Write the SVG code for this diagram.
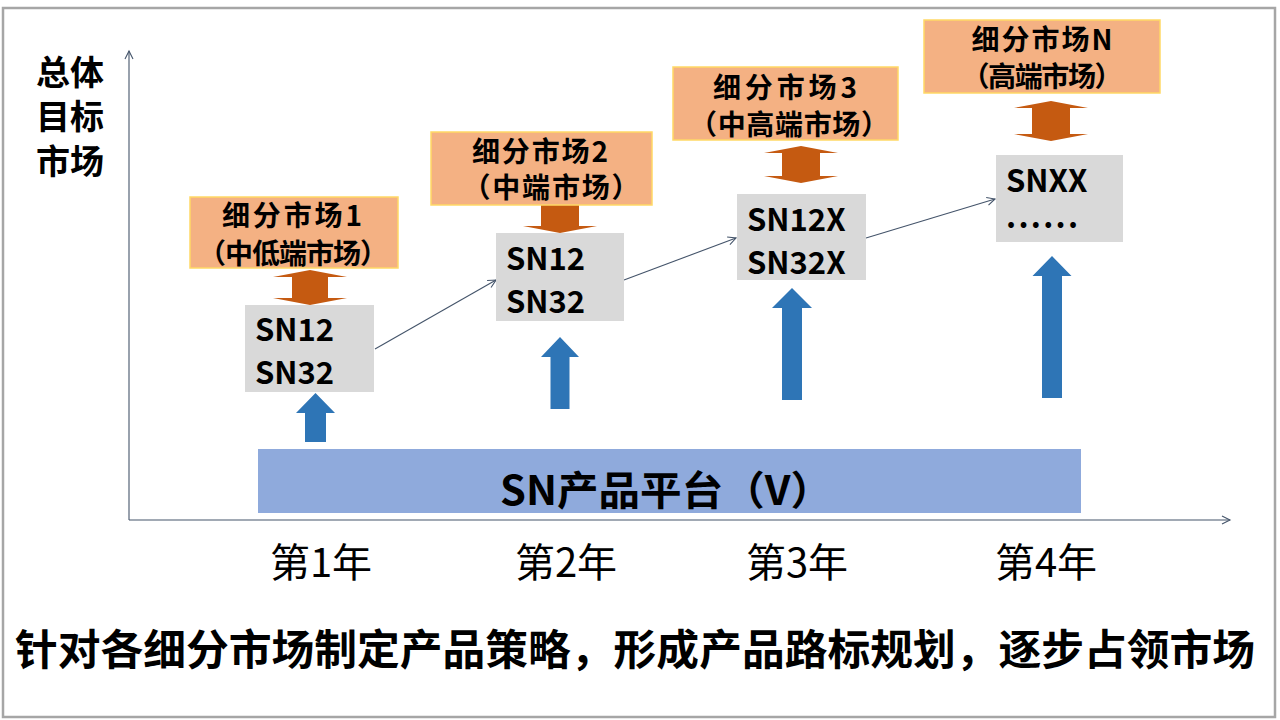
<svg xmlns="http://www.w3.org/2000/svg" width="1280" height="720" viewBox="0 0 1280 720">
<defs>
<marker id="open" markerWidth="12" markerHeight="12" refX="9" refY="5" orient="auto" markerUnits="userSpaceOnUse">
<path d="M1,1 L9,5 L1,9" fill="none" stroke="#44546A" stroke-width="1.1"/>
</marker>
<style>
.t{font-family:"Noto Sans CJK SC","Noto Sans",sans-serif;fill:#000}
.b{font-weight:bold}
.mk{fill:#F4B183;stroke:#FFD966;stroke-width:1.5}
.pr{fill:#D9D9D9}
.dbl{fill:#C55A11}
.up{fill:#2E75B6}
.ln{stroke:#44546A;stroke-width:1.1;fill:none}
</style>
</defs>
<rect x="0" y="0" width="1280" height="720" fill="#FFFFFF"/>
<rect x="3" y="8" width="1272" height="709" fill="none" stroke="#A6A6A6" stroke-width="2.5"/>

<g id="axis-label">
<text class="t b" x="70" y="85" font-size="34" text-anchor="middle">总体</text>
<text class="t b" x="70" y="129" font-size="34" text-anchor="middle">目标</text>
<text class="t b" x="70" y="174" font-size="34" text-anchor="middle">市场</text>
</g>

<g id="connectors">
<line class="ln" x1="129" y1="520" x2="129" y2="51" marker-end="url(#open)"/>
<line class="ln" x1="129" y1="520" x2="1230" y2="520" marker-end="url(#open)"/>
<line class="ln" x1="375" y1="349" x2="496" y2="280" marker-end="url(#open)"/>
<line class="ln" x1="624" y1="280" x2="736" y2="238" marker-end="url(#open)"/>
<line class="ln" x1="866" y1="238" x2="995" y2="199" marker-end="url(#open)"/>
</g>

<g id="platform">
<rect x="258" y="449" width="823" height="64" fill="#8FAADC"/>
<text class="t b" x="666" y="505" font-size="40" text-anchor="middle" textLength="332" lengthAdjust="spacingAndGlyphs">SN产品平台（V）</text>
</g>

<g id="up-arrows">
<path class="up" d="M315.5,393 L335,413 L326,413 L326,442 L305,442 L305,413 L296,413 Z"/>
<path class="up" d="M560,337 L579,357 L569.5,357 L569.5,409 L550.5,409 L550.5,357 L541,357 Z"/>
<path class="up" d="M792,288 L812,308 L802,308 L802,400 L782,400 L782,308 L772,308 Z"/>
<path class="up" d="M1052,256 L1071.5,276 L1062,276 L1062,398 L1042,398 L1042,276 L1032.5,276 Z"/>
</g>

<g id="market-arrows">
<path class="dbl" d="M310,270 L347,277 L328,277 L328,298 L347,298 L310,305 L273,298 L292,298 L292,277 L273,277 Z"/>
<path class="dbl" d="M560,197 L597,204 L579,204 L579,226 L597,226 L560,233 L523,226 L541,226 L541,204 L523,204 Z"/>
<path class="dbl" d="M801,146 L838,153 L820,153 L820,176 L838,176 L801,183 L764,176 L782,176 L782,153 L764,153 Z"/>
<path class="dbl" d="M1051,101 L1088,108 L1070,108 L1070,134 L1088,134 L1051,141 L1014,134 L1032,134 L1032,108 L1014,108 Z"/>
</g>

<g id="market-1">
<rect class="mk" x="190" y="197" width="208" height="71"/>
<text class="t b" x="292" y="226" font-size="28" text-anchor="middle" textLength="140" lengthAdjust="spacing">细分市场1</text>
<text class="t b" x="293" y="264" font-size="28" text-anchor="middle" textLength="190" lengthAdjust="spacing">（中低端市场）</text>
</g>
<g id="market-2">
<rect class="mk" x="431" y="132" width="221" height="73"/>
<text class="t b" x="540" y="162" font-size="28" text-anchor="middle" textLength="136" lengthAdjust="spacing">细分市场2</text>
<text class="t b" x="551" y="198" font-size="28" text-anchor="middle" textLength="177" lengthAdjust="spacing">（中端市场）</text>
</g>
<g id="market-3">
<rect class="mk" x="673" y="67" width="225" height="73"/>
<text class="t b" x="785" y="98" font-size="28" text-anchor="middle" textLength="144" lengthAdjust="spacing">细分市场3</text>
<text class="t b" x="789" y="135" font-size="28" text-anchor="middle" textLength="200" lengthAdjust="spacing">（中高端市场）</text>
</g>
<g id="market-n">
<rect class="mk" x="924" y="20" width="236" height="73"/>
<text class="t b" x="1042" y="50" font-size="28" text-anchor="middle" textLength="141" lengthAdjust="spacing">细分市场N</text>
<text class="t b" x="1042" y="87" font-size="28" text-anchor="middle" textLength="161" lengthAdjust="spacing">（高端市场）</text>
</g>

<g id="product-1">
<rect class="pr" x="245" y="305" width="129" height="87"/>
<text class="t b" x="255" y="341" font-size="31">SN12</text>
<text class="t b" x="255" y="384" font-size="31">SN32</text>
</g>
<g id="product-2">
<rect class="pr" x="496" y="233" width="128" height="88"/>
<text class="t b" x="506" y="270" font-size="31">SN12</text>
<text class="t b" x="506" y="313" font-size="31">SN32</text>
</g>
<g id="product-3">
<rect class="pr" x="737" y="194" width="129" height="86"/>
<text class="t b" x="747" y="231" font-size="31">SN12X</text>
<text class="t b" x="747" y="274" font-size="31">SN32X</text>
</g>
<g id="product-n">
<rect class="pr" x="996" y="155" width="127" height="87"/>
<text class="t b" x="1006" y="192" font-size="31">SNXX</text>
<text class="t b" x="1006" y="228" font-size="31" textLength="72" lengthAdjust="spacing">......</text>
</g>

<g id="years">
<text class="t" x="321" y="577" font-size="40" text-anchor="middle">第1年</text>
<text class="t" x="566" y="577" font-size="40" text-anchor="middle">第2年</text>
<text class="t" x="797" y="577" font-size="40" text-anchor="middle">第3年</text>
<text class="t" x="1046" y="577" font-size="40" text-anchor="middle">第4年</text>
</g>

<g id="caption">
<text class="t b" x="15" y="665" font-size="42" textLength="1240" lengthAdjust="spacingAndGlyphs">针对各细分市场制定产品策略，形成产品路标规划，逐步占领市场</text>
</g>
</svg>
